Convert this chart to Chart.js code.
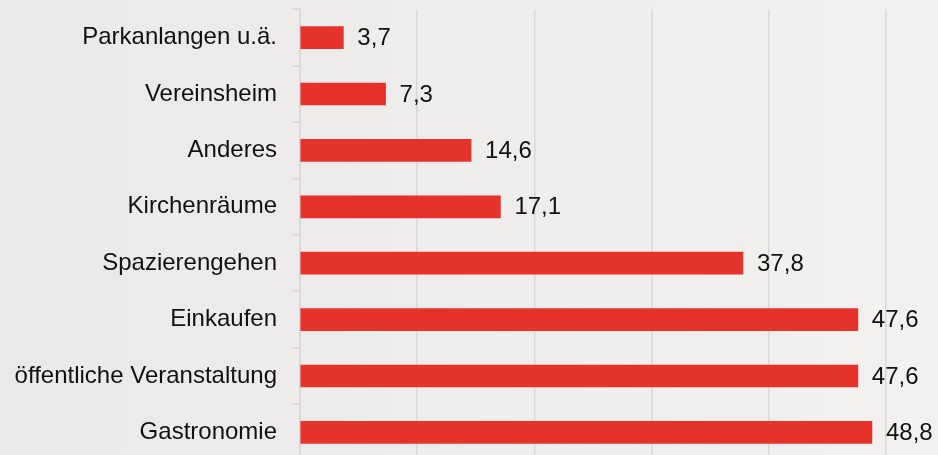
<!DOCTYPE html>
<html>
<head>
<meta charset="utf-8">
<script src="https://cdn.jsdelivr.net/npm/chart.js@4"></script>
<style>
    html, body {
        margin: 0;
        padding: 0;
        overflow: hidden;
    }
    body {
        width: 938px;
        height: 455px;
        background: linear-gradient(to right, #eae9e8, #f2f1ef);
    }
    #wrap {
        position: relative;
        width: 938px;
        height: 510px;
        margin-top: -20px;
    }
</style>
</head>
<body>
<div id="wrap"><canvas id="barChart"></canvas></div>
<script>
const categories = [
    'Parkanlangen u.ä.',
    'Vereinsheim',
    'Anderes',
    'Kirchenräume',
    'Spazierengehen',
    'Einkaufen',
    'öffentliche Veranstaltung',
    'Gastronomie'
];
const values = [3.7, 7.3, 14.6, 17.1, 37.8, 47.6, 47.6, 48.8];

const fontFamily = '"Liberation Sans", Arial, sans-serif';

// draws the value next to each bar (German decimal comma)
const valueLabels = {
    id: 'valueLabels',
    afterDatasetsDraw(chart) {
        const ctx = chart.ctx;
        const meta = chart.getDatasetMeta(0);
        ctx.save();
        ctx.font = '24px ' + fontFamily;
        ctx.fillStyle = '#111';
        ctx.textAlign = 'left';
        ctx.textBaseline = 'middle';
        meta.data.forEach((bar, i) => {
            const txt = values[i].toFixed(1).replace('.', ',');
            ctx.fillText(txt, bar.x + 14, bar.y + 1);
        });
        ctx.restore();
    }
};

new Chart(document.getElementById('barChart'), {
    type: 'bar',
    data: {
        labels: categories,
        datasets: [{
            data: values,
            backgroundColor: '#e5322b',
            borderWidth: 0,
            barThickness: 22
        }]
    },
    options: {
        indexAxis: 'y',
        responsive: true,
        maintainAspectRatio: false,
        animation: false,
        layout: {
            padding: { top: 10, right: 52, bottom: 0, left: 0 }
        },
        plugins: {
            legend: { display: false },
            tooltip: { enabled: false }
        },
        scales: {
            x: {
                min: 0,
                max: 50,
                ticks: { display: false, stepSize: 10 },
                grid: {
                    color: '#d8d8d8',
                    lineWidth: 1.5,
                    drawTicks: false
                },
                border: { display: false },
                afterFit: (scale) => { scale.height = 0; }
            },
            y: {
                grid: {
                    drawOnChartArea: false,
                    color: '#dadada',
                    lineWidth: 2,
                    tickLength: 8
                },
                border: { color: '#d8d8d8', width: 2 },
                ticks: {
                    color: '#111',
                    padding: 15,
                    font: { family: fontFamily, size: 24 }
                },
                afterFit: (scale) => { scale.width = 300; }
            }
        }
    },
    plugins: [valueLabels]
});
</script>
</body>
</html>
